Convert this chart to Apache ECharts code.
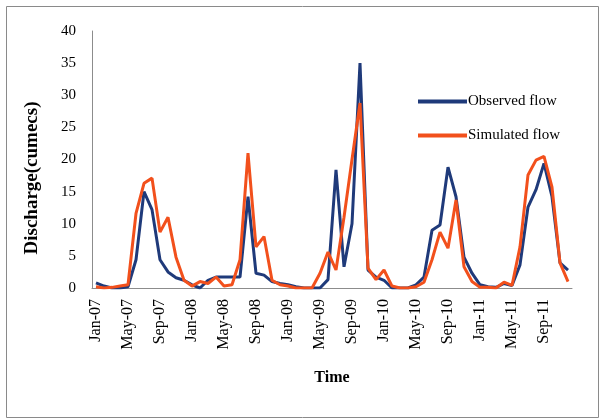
<!DOCTYPE html>
<html>
<head>
<meta charset="utf-8">
<script src="https://cdn.jsdelivr.net/npm/echarts@6/dist/echarts.min.js"></script>
<style>html,body{margin:0;padding:0;background:#fff}#c{width:600px;height:420px}</style>
</head>
<body>
<div id="c"></div>
<script>
const months = ['Jan','Feb','Mar','Apr','May','Jun','Jul','Aug','Sep','Oct','Nov','Dec'];
const years = ['07','08','09','10','11'];
const categories = [];
years.forEach(y => months.forEach(m => categories.push(m + '-' + y)));

const observed = [
  0.8, 0.3, 0, 0, 0.2, 4.4, 15, 12.2, 4.4, 2.5, 1.6, 1.2,
  0.5, 0, 1.2, 1.7, 1.7, 1.7, 1.7, 14.2, 2.3, 2, 1, 0.7,
  0.5, 0.2, 0, 0, 0, 1.3, 18.4, 3.3, 10, 35, 2.8, 1.7,
  1.2, 0, 0, 0, 0.5, 1.7, 9, 9.8, 18.8, 14.2, 4.8, 2.3,
  0.5, 0.2, 0.1, 0.7, 0.4, 3.6, 12.6, 15.3, 19.4, 14.2, 3.9, 2.8
];
const simulated = [
  0.2, 0, 0.1, 0.3, 0.5, 11.6, 16.3, 17.1, 8.7, 11, 4.8, 1.2,
  0.3, 1, 0.7, 1.7, 0.3, 0.5, 4.4, 21, 6.4, 8, 1.2, 0.5,
  0.3, 0, 0, 0, 2.3, 5.6, 2.8, 11, 20, 28.8, 3.1, 1.3,
  2.8, 0.3, 0, 0, 0.2, 0.9, 4.4, 8.7, 6.2, 13.7, 3.3, 1,
  0.1, 0.1, 0, 0.9, 0.4, 6.4, 17.6, 19.9, 20.5, 15.7, 3.9, 1
];
const yTicks = { min: 0, max: 40, interval: 5 };
const yTitle = 'Discharge(cumecs)';
const xTitle = 'Time';

const serif = '"Liberation Serif", "DejaVu Serif", serif';
const chart = echarts.init(document.getElementById('c'));
chart.setOption({
  animation: false,
  backgroundColor: '#fff',
  graphic: [{
    type: 'rect', left: 4, top: 4,
    shape: { width: 592, height: 411 },
    style: { fill: 'none', stroke: '#8a8a8a', lineWidth: 1 }, silent: true
  }, {
    type: 'text', x: 32, y: 178, rotation: Math.PI / 2,
    style: { text: yTitle, font: 'bold 19px ' + serif, fill: '#000',
      align: 'center', verticalAlign: 'middle' }, silent: true
  }],
  grid: { left: 92, right: 28, top: 31, bottom: 132 },
  legend: {
    orient: 'vertical', left: 413, top: 89, itemGap: 19,
    itemWidth: 49, itemHeight: 4, icon: 'rect',
    textStyle: { fontFamily: serif, fontSize: 15, color: '#000', padding: [0, 0, 0, -4] },
    data: ['Observed flow', 'Simulated flow']
  },
  xAxis: {
    type: 'category', data: categories, boundaryGap: true,
    name: xTitle, nameLocation: 'middle', nameGap: 82,
    nameTextStyle: { fontFamily: serif, fontSize: 16, fontWeight: 'bold', color: '#000' },
    axisLine: { lineStyle: { color: '#8c8c8c', width: 1 } },
    axisTick: { show: false },
    axisLabel: { interval: 3, rotate: 90, fontFamily: serif, fontSize: 16, color: '#000', margin: 11 },
    splitLine: { show: false }
  },
  yAxis: {
    type: 'value', min: yTicks.min, max: yTicks.max, interval: yTicks.interval,
    axisLine: { show: true, lineStyle: { color: '#8c8c8c', width: 1 } },
    axisTick: { show: false },
    axisLabel: { fontFamily: serif, fontSize: 15, color: '#000', margin: 16 },
    splitLine: { show: false }
  },
  series: [
    { name: 'Observed flow', type: 'line', data: observed, showSymbol: false,
      lineStyle: { color: '#1f3a7a', width: 3 }, itemStyle: { color: '#1f3a7a' } },
    { name: 'Simulated flow', type: 'line', data: simulated, showSymbol: false,
      lineStyle: { color: '#f2501c', width: 3 }, itemStyle: { color: '#f2501c' } }
  ]
});
</script>
</body>
</html>
